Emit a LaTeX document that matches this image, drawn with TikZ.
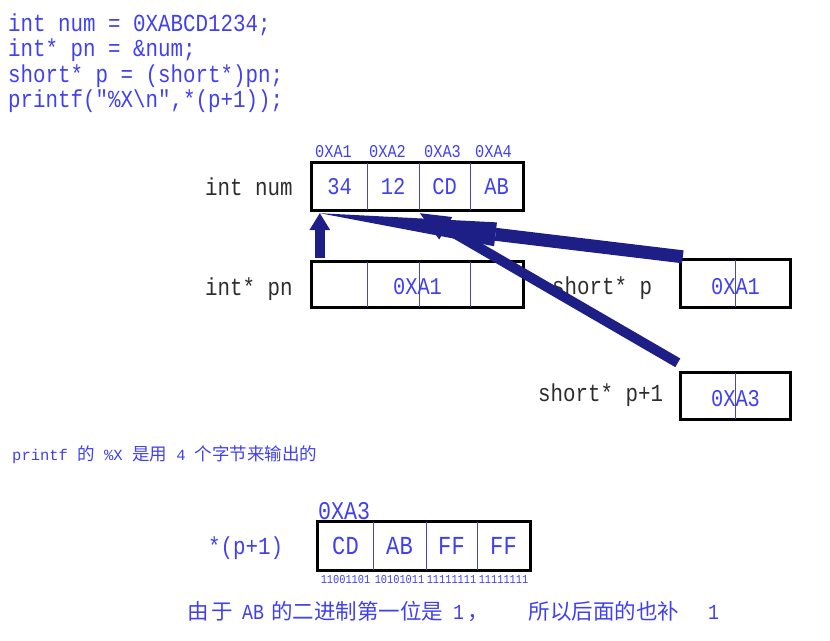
\documentclass[tikz,border=0pt]{standalone}
\usepackage{fontspec}
\usepackage{xcolor}
\usetikzlibrary{arrows.meta, positioning, fit}
\newfontfamily\codefont[FakeStretch=0.85]{Liberation Mono}
\newfontfamily\latinmono{Liberation Mono}
\newfontfamily\cjk{Noto Sans CJK SC}
\newcommand\notelat[1]{{\latinmono\fontsize{15.5}{18}\selectfont #1}}
\definecolor{memBlue}{RGB}{64,64,240}
\definecolor{memGray}{RGB}{45,45,45}
\definecolor{memLine}{RGB}{70,70,180}
\definecolor{memNavy}{RGB}{30,30,135}

\begin{document}
\begin{tikzpicture}[x=1pt, y=-1pt,
    codeline/.style={anchor=base west, inner sep=0pt, text=memBlue,
    font=\codefont\fontsize{24.5}{28}\selectfont},
    varname/.style={anchor=base west, inner sep=0pt, text=memGray,
    font=\codefont\fontsize{24.5}{28}\selectfont},
    addr/.style={anchor=base west, inner sep=0pt, text=memBlue,
    font=\codefont\fontsize{18}{20}\selectfont},
    cell/.style={rectangle, inner sep=0pt, text=memBlue,
    font=\codefont\fontsize{24}{28}\selectfont},
    bits/.style={anchor=base, inner sep=0pt, text=memBlue,
    font=\codefont\fontsize{12.1}{14}\selectfont},
    frame/.style={rectangle, draw=black, line width=3pt, inner sep=0pt},
    divider/.style={draw=memLine, line width=0.8pt},
    ptr/.style={draw=memNavy}
]
\useasboundingbox (0,0) rectangle (830,640);

% source code
\node[codeline] (code1) at (8,31) {int num = 0XABCD1234;};
\node[codeline] (code2) at (8,56.5) {int* pn = \&num;};
\node[codeline] (code3) at (8,82) {short* p = (short*)pn;};
\node[codeline] (code4) at (8,107.5) {printf("\%X\textbackslash n",*(p+1));};

% int num
\node[cell, minimum width=55pt, minimum height=47pt] (n1) at (339.5,186.5) {34};
\node[cell, minimum width=52pt, minimum height=47pt] (n2) at (393,186.5) {12};
\node[cell, minimum width=51pt, minimum height=47pt] (n3) at (444.5,186.5) {CD};
\node[cell, minimum width=53pt, minimum height=47pt] (n4) at (496.5,186.5) {AB};
\node[frame, fit=(n1)(n4)] (num) {};
\foreach \c in {n1,n2,n3}
    \draw[divider] (\c.north east) -- (\c.south east);
\node[addr] (a1) at (315,157) {0XA1};
\node[addr] (a2) at (369,157) {0XA2};
\node[addr] (a3) at (424,157) {0XA3};
\node[addr] (a4) at (475,157) {0XA4};
\node[varname] (numlbl) at (205,195) {int num};

% int* pn
\node[cell, minimum width=55pt, minimum height=45pt] (p1) at (339.5,284.5) {};
\node[cell, minimum width=52pt, minimum height=45pt] (p2) at (393,284.5) {};
\node[cell, minimum width=51pt, minimum height=45pt] (p3) at (444.5,284.5) {};
\node[cell, minimum width=53pt, minimum height=45pt] (p4) at (496.5,284.5) {};
\node[frame, fit=(p1)(p4)] (pn) {};
\foreach \c in {p1,p2,p3}
    \draw[divider] (\c.north east) -- (\c.south east);
\node[cell] (pnval) at ([yshift=-2pt]pn.center) {0XA1};
\node[varname] (pnlbl) at (205,295) {int* pn};

% short* p
\node[cell, minimum width=54pt, minimum height=47pt] (s1) at (708,283.5) {};
\node[cell, minimum width=55pt, minimum height=47pt] (s2) at (762.5,283.5) {};
\node[frame, fit=(s1)(s2)] (sp) {};
\draw[divider] (s1.north east) -- (s1.south east);
\node[cell] (spval) at ([yshift=-3pt]sp.center) {0XA1};
\node[varname] (splbl) at (552,294) {short* p};

% short* p+1
\node[cell, minimum width=54pt, minimum height=46pt] (t1) at (708,396) {};
\node[cell, minimum width=55pt, minimum height=46pt] (t2) at (762.5,396) {};
\node[frame, fit=(t1)(t2)] (spp) {};
\draw[divider] (t1.north east) -- (t1.south east);
\node[cell] (sppval) at ([yshift=-3pt]spp.center) {0XA3};
\node[varname] (spplbl) at (538,401) {short* p+1};

% pointers
\draw[ptr, line width=13pt, -{Triangle[length=177pt,width=24pt,line width=0pt]}]
    ([xshift=2pt,yshift=3pt]s1.north west) -- ([xshift=8pt,yshift=-3pt]n1.south west);
\draw[ptr, line width=10pt, -{Triangle[length=30pt,width=26pt,line width=0pt]}]
    ([xshift=-3pt,yshift=10pt]t1.north west) -- ([xshift=1pt,yshift=-3pt]n3.south west);
\draw[ptr, line width=10pt, -{Triangle[length=17pt,width=21pt,line width=0pt]}]
    ([xshift=8pt,yshift=4pt]p1.north west) -- ([xshift=8pt,yshift=-3pt]n1.south west);

% note
\node[anchor=west, inner sep=0pt, text=memBlue, font=\cjk\fontsize{17.5}{20}\selectfont]
    (note1) at (12,455) {\notelat{printf\ }的\notelat{\ \%X\ }是用\notelat{\ 4\ }个字节来输出的};

% *(p+1)
\node[addr, font=\codefont\fontsize{25.5}{28}\selectfont] (a5) at (318,519) {0XA3};
\node[varname, text=memBlue] (deref) at (208,554) {*(p+1)};
\node[cell, font=\codefont\fontsize{26}{28}\selectfont, minimum width=55pt, minimum height=48pt] (b1) at (345.5,546) {CD};
\node[cell, font=\codefont\fontsize{26}{28}\selectfont, minimum width=53pt, minimum height=48pt] (b2) at (399.5,546) {AB};
\node[cell, font=\codefont\fontsize{26}{28}\selectfont, minimum width=51pt, minimum height=48pt] (b3) at (451.5,546) {FF};
\node[cell, font=\codefont\fontsize{26}{28}\selectfont, minimum width=53pt, minimum height=48pt] (b4) at (503.5,546) {FF};
\node[frame, fit=(b1)(b4)] (res) {};
\foreach \c in {b1,b2,b3}
    \draw[divider] (\c.north east) -- (\c.south east);
\node[bits] (bits1) at (345.5,583) {11001101};
\node[bits] (bits2) at (399.5,583) {10101011};
\node[bits] (bits3) at (451.5,583) {11111111};
\node[bits] (bits4) at (503.5,583) {11111111};

\node[anchor=west, inner sep=0pt, text=memBlue, font=\cjk\fontsize{21.5}{24}\selectfont]
    (note2) at (187,612) {由\hspace{3pt}于\hspace{9pt}{\codefont AB}\hspace{7pt}的二进制第一位是\hspace{10pt}{\codefont 1}\hspace{3pt}，\hspace{40pt}所以后面的也补\hspace{29pt}{\codefont 1}};
\end{tikzpicture}
\end{document}
